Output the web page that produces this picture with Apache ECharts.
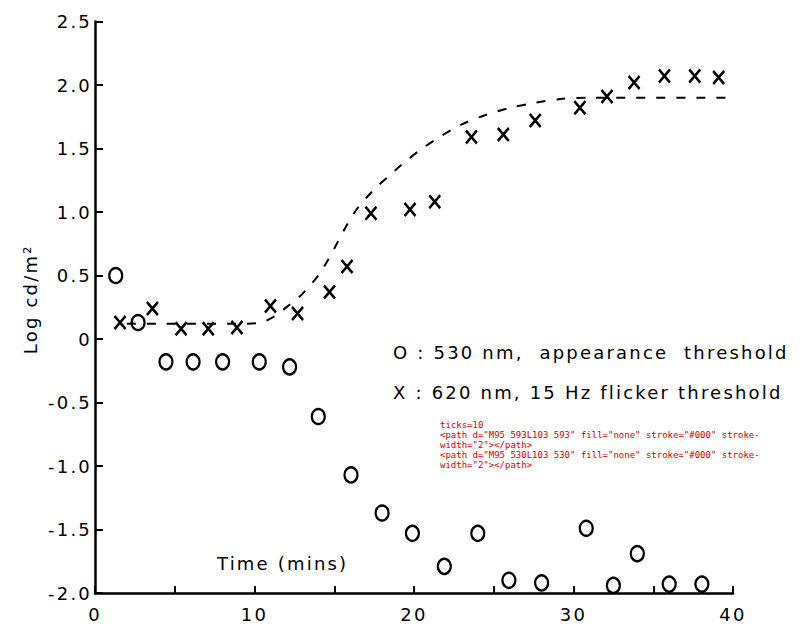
<!DOCTYPE html>
<html>
<head>
<meta charset="utf-8">
<script src="https://cdn.jsdelivr.net/npm/echarts@6/dist/echarts.min.js"></script>
<style>
  html, body { margin: 0; padding: 0; background: #fff; }
  #chart { width: 812px; height: 628px; }
  /* the printed figure uses wide, tracked lettering */
  #chart text { letter-spacing: 2.2px; }
  #dbg { position: absolute; left: 440px; top: 420px; width: 360px; font: 9px monospace; color: #c00; white-space: pre-wrap; }
</style>
</head>
<body>
<div id="chart"></div>
<div id="dbg"></div>
<script>
// 530 nm appearance threshold (O)
const circleTime = [1.3, 2.7, 4.45, 6.15, 8.0, 10.3, 12.2, 14.0, 16.05, 18.0, 19.9, 21.9, 24.0, 25.95, 28.0, 30.8, 32.5, 34.0, 36.0, 38.05];
const circleLog = [0.50, 0.13, -0.18, -0.18, -0.18, -0.18, -0.22, -0.61, -1.07, -1.37, -1.53, -1.79, -1.53, -1.90, -1.92, -1.49, -1.94, -1.69, -1.93, -1.93];

// 620 nm, 15 Hz flicker threshold (X)
const crossTime = [1.57, 3.6, 5.4, 7.1, 8.9, 11.0, 12.7, 14.7, 15.8, 17.3, 19.75, 21.3, 23.6, 25.6, 27.6, 30.4, 32.1, 33.8, 35.7, 37.6, 39.1];
const crossLog = [0.13, 0.24, 0.08, 0.08, 0.09, 0.26, 0.20, 0.37, 0.57, 0.99, 1.02, 1.08, 1.59, 1.61, 1.72, 1.82, 1.91, 2.02, 2.07, 2.07, 2.06];

// dashed curve
const curveTime = [2.0, 9.6, 10.4, 11.0, 11.6, 12.2, 12.8, 13.4, 14.0, 14.6, 15.2, 15.8, 16.4, 17.0, 17.6, 18.4, 19.3, 20.4, 21.6, 23.0, 24.4, 26.0, 27.6, 29.2, 31.0, 42.8];
const curveLog = [0.12, 0.12, 0.13, 0.16, 0.21, 0.27, 0.33, 0.41, 0.50, 0.62, 0.76, 0.90, 1.02, 1.11, 1.19, 1.28, 1.38, 1.49, 1.59, 1.69, 1.76, 1.82, 1.86, 1.89, 1.90, 1.90];

const xLabelled = [0, 10, 20, 30, 40];
const legendLines = ['O : 530 nm,  appearance  threshold', 'X : 620 nm, 15 Hz flicker threshold'];

const zip = (xs, ys) => xs.map((x, i) => [x, ys[i]]);
const font = 'DejaVu Sans, Liberation Sans, sans-serif';
const ink = '#000';
const textStyle = { color: ink, fontFamily: font, fontSize: 18, fontWeight: 'normal' };

const chart = echarts.init(document.getElementById('chart'), null, { renderer: 'svg' });
chart.setOption({
  animation: false,
  backgroundColor: '#fff',
  title: [
    { text: 'Time (mins)', left: 217, top: 554, padding: 0, textStyle },
    ...legendLines.map((t, i) => ({ text: t, left: 393, top: 343 + i * 40, padding: 0, textStyle })),
  ],
  grid: { left: 95, right: 79, top: 21.5, bottom: 35 },
  xAxis: {
    type: 'value',
    min: 0,
    max: 40,
    interval: 5,
    splitLine: { show: false },
    axisLine: { show: true, onZero: false, lineStyle: { color: ink, width: 2.5 } },
    axisTick: { show: true, inside: true, length: 7, lineStyle: { color: ink, width: 2 } },
    axisLabel: {
      color: ink, fontFamily: font, fontSize: 18, margin: 12,
      formatter: (v) => (xLabelled.includes(v) ? String(v) : ''),
    },
  },
  yAxis: {
    type: 'value',
    min: -2,
    max: 2.5,
    interval: 0.5,
    name: 'Log cd/m²',
    nameLocation: 'middle',
    nameRotate: 90,
    nameGap: 56,
    nameTextStyle: { color: ink, fontFamily: font, fontSize: 18, padding: [0, 0, 0, 16] },
    splitLine: { show: false },
    axisLine: { show: true, onZero: false, lineStyle: { color: ink, width: 2.5 } },
    axisTick: { show: true, inside: true, length: 8, lineStyle: { color: ink, width: 2 } },
    axisLabel: {
      color: ink, fontFamily: font, fontSize: 18, margin: 3,
      formatter: (v) => (v === 0 ? '0' : v.toFixed(1)),
    },
  },
  series: [
    {
      type: 'line',
      data: zip(curveTime, curveLog),
      showSymbol: false,
      smooth: 0.3,
      clip: false,
      lineStyle: { color: ink, width: 2, type: [9, 11] },
    },
    {
      type: 'scatter',
      data: zip(circleTime, circleLog),
      symbol: 'circle',
      symbolSize: [13, 15],
      itemStyle: { color: 'rgba(0,0,0,0)', borderColor: ink, borderWidth: 2.3, opacity: 1 },
    },
    {
      type: 'scatter',
      data: zip(crossTime, crossLog),
      symbol: 'path://M0,0L10,12M10,0L0,12',
      symbolSize: [11, 13],
      itemStyle: { color: 'rgba(0,0,0,0)', borderColor: ink, borderWidth: 2.6, opacity: 1 },
    },
  ],
});
// temporary check: are the tick paths in the svg, and how are they styled?
const ticks = [...document.querySelectorAll('#chart svg path')].filter((p) => /^M95 \d+(\.\d+)?L103/.test(p.getAttribute('d') || ''));
document.getElementById('dbg').textContent = 'ticks=' + ticks.length + '\n' + ticks.slice(0, 2).map((p) => p.outerHTML.slice(0, 200)).join('\n');
window.addEventListener('resize', () => chart.resize());
</script>
</body>
</html>
